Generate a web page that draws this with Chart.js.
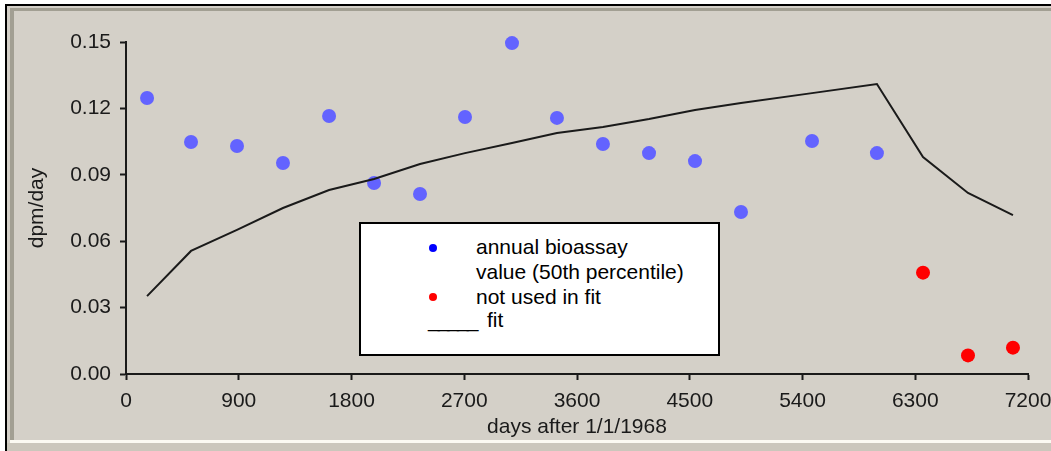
<!DOCTYPE html>
<html>
<head>
<meta charset="utf-8">
<script src="https://cdn.jsdelivr.net/npm/chart.js@4"></script>
<style>
  body { margin: 0; background: #fff; }
  #wrap { position: relative; width: 1051px; height: 451px; overflow: hidden; background: #fff; font-family: 'Liberation Sans', Arial, sans-serif; }
  .frame { position: absolute; left: 5px; top: 4px; right: 0; bottom: 0; border-top: 2px solid #000; border-left: 2px solid #000; background: #d4d0c8; }
  .bevTop { position: absolute; left: 10px; top: 8px; right: 0; height: 3px; background: #a29f93; }
  .bevLeft { position: absolute; left: 10px; top: 8px; width: 4px; height: 432px; background: #a29f93; }
  .bevBot { position: absolute; left: 10px; right: 0; top: 440px; height: 3px; background: #fbfaf2; }
  .bevBot2 { position: absolute; left: 7px; right: 0; top: 443px; bottom: 0; background: #cbc7bc; }
  canvas { position: absolute; left: 0; top: 0; }
  #legend { position: absolute; left: 359px; top: 222px; width: 361px; height: 134px; box-sizing: border-box; border: 2px solid #000; background: #fff; color: #000; font-size: 21px; }
  #legend .dot { position: absolute; width: 8px; height: 8px; border-radius: 50%; }
  #legend .txt { position: absolute; left: 115px; top: 10px; line-height: 25px; white-space: nowrap; }
</style>
</head>
<body>
<div id="wrap">
  <div class="frame"></div>
  <div class="bevTop"></div>
  <div class="bevLeft"></div>
  <div class="bevBot"></div>
  <div class="bevBot2"></div>
  <canvas id="grafica" width="1051" height="451"></canvas>
  <div id="legend">
    <div class="dot" style="left:68px;top:20px;background:#0000ff"></div>
    <div class="dot" style="left:68px;top:69px;background:#ff0000"></div>
    <div class="txt">annual bioassay<br>value (50th percentile)<br>not used in fit</div>
    <div class="txt" style="left:67px;top:83px;letter-spacing:-2px">_____</div>
    <div class="txt" style="left:126px;top:83px">fit</div>
  </div>
</div>
<script>
// annual bioassay values used in the fit
const dias_usados = [168, 519, 886, 1253, 1621, 1980, 2347, 2706, 3081, 3440, 3807, 4175, 4542, 4909, 5476, 5994];
const valores_usados = [0.1247, 0.1048, 0.1030, 0.0953, 0.1166, 0.0863, 0.0813, 0.1161, 0.1495, 0.1157, 0.1039, 0.0998, 0.0962, 0.0732, 0.1053, 0.0998];

// values not used in the fit
const dias_no_usados = [6362, 6721, 7080];
const valores_no_usados = [0.0458, 0.0084, 0.0119];

// fitted curve
const dias_ajuste = [168, 519, 886, 1253, 1621, 1980, 2347, 2706, 3081, 3440, 3807, 4175, 4542, 4909, 5476, 5994, 6362, 6721, 7080];
const valores_ajuste = [0.0352, 0.0556, 0.0651, 0.0750, 0.0831, 0.0881, 0.0949, 0.0998, 0.1044, 0.1089, 0.1116, 0.1152, 0.1193, 0.1224, 0.1269, 0.1310, 0.0980, 0.0818, 0.0718];

// axis ticks
const ticks_x = [0, 900, 1800, 2700, 3600, 4500, 5400, 6300, 7200];
const ticks_y = [0, 0.03, 0.06, 0.09, 0.12, 0.15];

function puntos(xs, ys) {
    return xs.map((x, i) => ({x: x, y: ys[i]}));
}

const fuente = {family: "'Liberation Sans', Arial, sans-serif", size: 21};
const ctx = document.getElementById('grafica').getContext('2d');

new Chart(ctx, {
    type: 'scatter',
    data: {
        datasets: [{
            label: 'fit',
            type: 'line',
            data: puntos(dias_ajuste, valores_ajuste),
            borderColor: '#1a1a1a',
            borderWidth: 2,
            pointRadius: 0,
            tension: 0,
            fill: false,
            clip: false
        }, {
            label: 'annual bioassay value (50th percentile)',
            data: puntos(dias_usados, valores_usados),
            backgroundColor: '#6363ff',
            borderWidth: 0,
            pointRadius: 7,
            clip: false
        }, {
            label: 'not used in fit',
            data: puntos(dias_no_usados, valores_no_usados),
            backgroundColor: '#ff0000',
            borderWidth: 0,
            pointRadius: 7,
            clip: false
        }]
    },
    options: {
        responsive: false,
        animation: false,
        layout: {padding: {top: 42, right: 23, left: 0, bottom: 0}},
        plugins: {legend: {display: false}, tooltip: {enabled: false}},
        scales: {
            x: {
                type: 'linear',
                min: 0,
                max: 7200,
                afterBuildTicks: s => { s.ticks = ticks_x.map(v => ({value: v})); },
                afterFit: s => { s.height = 77; s.paddingLeft = 0; s.paddingRight = 0; },
                ticks: {
                    padding: 9,
                    color: '#1a1a1a',
                    font: fuente,
                    maxRotation: 0,
                    callback: v => String(v)
                },
                grid: {drawOnChartArea: false, tickLength: 6, tickColor: '#1a1a1a', tickWidth: 2},
                border: {color: '#1a1a1a', width: 2},
                title: {display: true, text: 'days after 1/1/1968', color: '#1a1a1a', font: fuente, padding: {top: 0, bottom: 11}}
            },
            y: {
                min: 0,
                max: 0.15,
                afterBuildTicks: s => { s.ticks = ticks_y.map(v => ({value: v})); },
                afterFit: s => { s.width = 126; s.paddingTop = 0; s.paddingBottom = 0; },
                ticks: {
                    padding: 9,
                    color: '#1a1a1a',
                    font: fuente,
                    callback: v => Number(v).toFixed(2)
                },
                grid: {drawOnChartArea: false, tickLength: 6, tickColor: '#1a1a1a', tickWidth: 2},
                border: {color: '#1a1a1a', width: 2},
                title: {display: true, text: 'dpm/day', color: '#1a1a1a', font: fuente, padding: {top: 25, bottom: 0}}
            }
        }
    }
});
</script>
</body>
</html>
